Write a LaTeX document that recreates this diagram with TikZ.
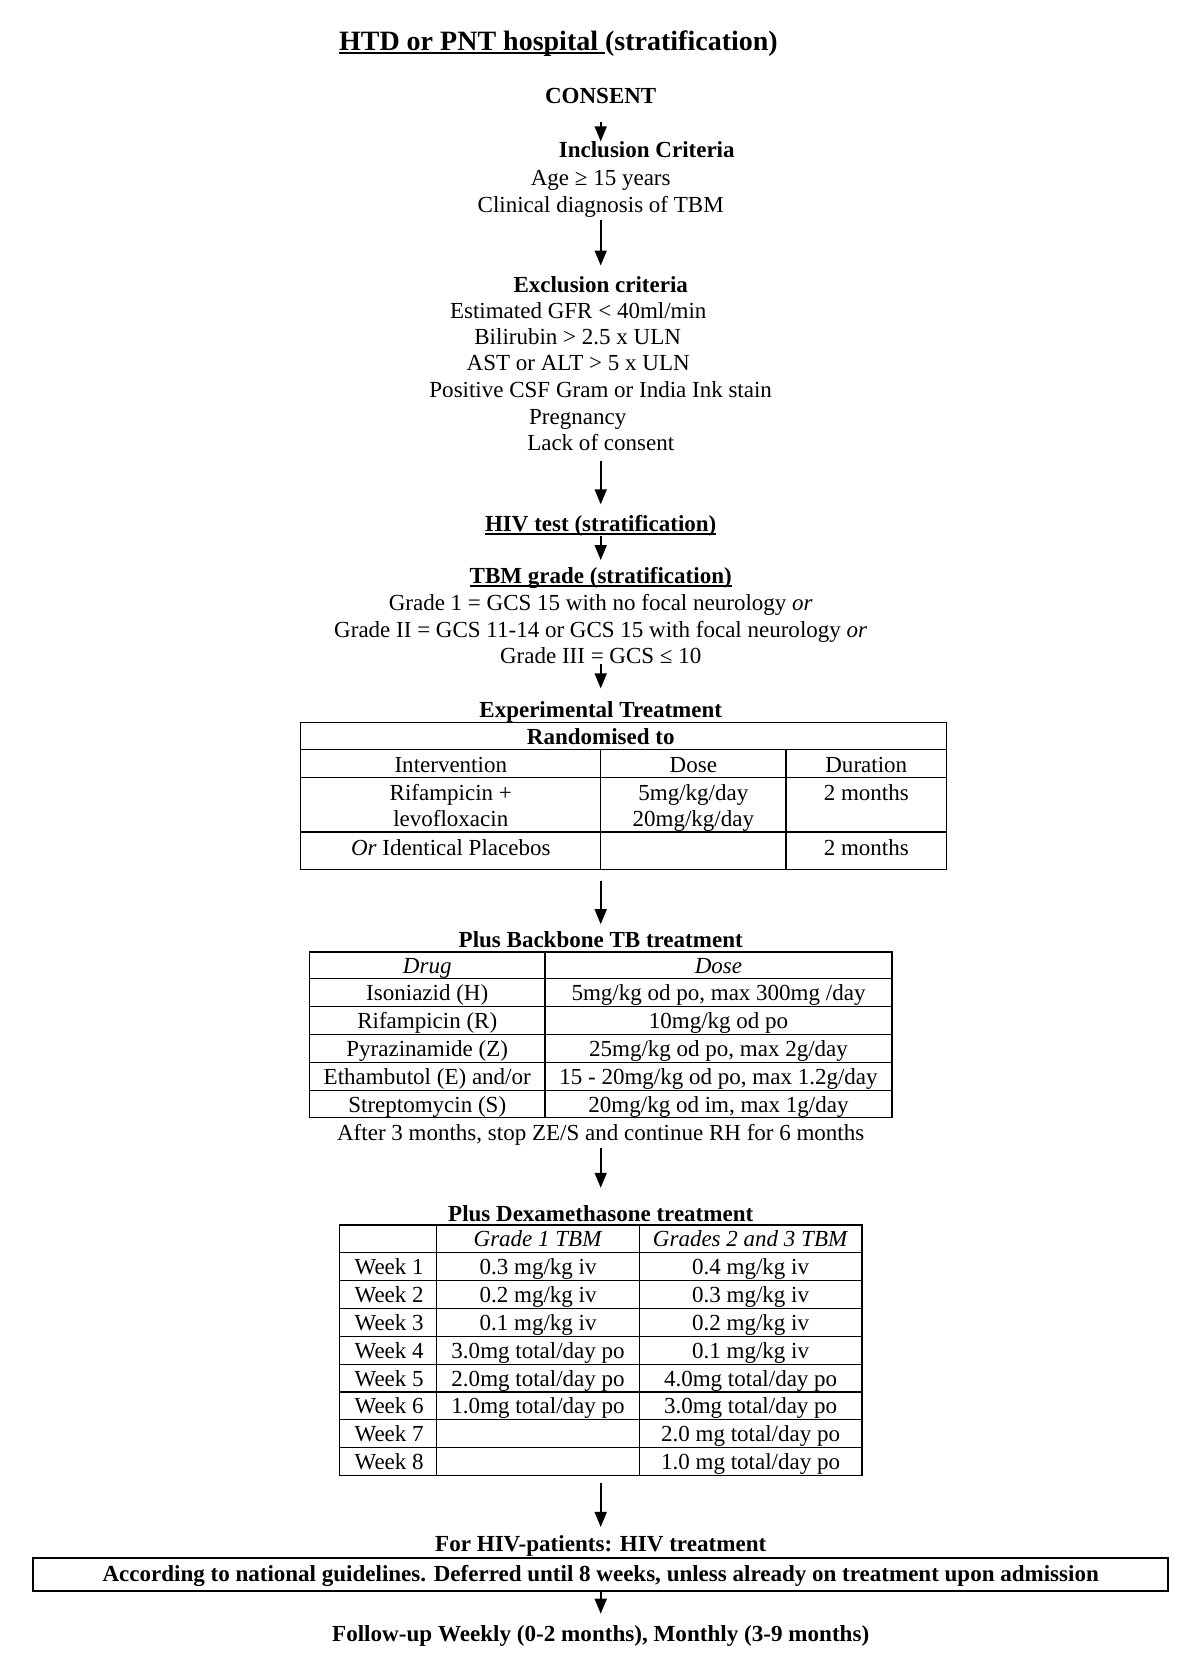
\documentclass[tikz,border=0pt]{standalone}
\usepackage{fontspec}
\setmainfont{Liberation Serif}
\usetikzlibrary{arrows.meta}
\newcommand\myul[1]{\leavevmode\setbox0\hbox{#1}\rlap{\rule[-3.5pt]{\wd0}{1.6pt}}\box0}
\begin{document}
\begin{tikzpicture}[x=1.0705pt,y=-1.0705pt,
  txt/.style={inner sep=0pt, anchor=base, font=\fontsize{23}{26}\selectfont},
  hd/.style={inner sep=0pt, anchor=base, font=\fontsize{23}{26}\selectfont\bfseries},
  wk/.style={inner sep=0pt, anchor=base west, font=\fontsize{23}{26}\selectfont},
  arr/.style={line width=1.6pt, -{Triangle[length=15pt,width=12pt]}},
  frame/.style={draw, line width=1.1pt, inner sep=0pt},
  grid/.style={line width=1.1pt}]
\fill[white] (0,0) rectangle (1121,1568);
\path[use as bounding box] (0,0) rectangle (1121,1568);

% ---------- top flow ----------
\node[hd] (title) at (521.5,47) {\fontsize{28}{32}\selectfont\myul{HTD or PNT hospital\ }(stratification)};
\node[hd] (consent) at (561,97) {CONSENT};
\node[hd] (incl) at (604,147) {Inclusion Criteria};
\node[txt] (incl1) at (561,173) {Age ≥ 15 years};
\node[txt] (incl2) at (561,198) {Clinical diagnosis of TBM};
\node[hd] (excl) at (561,273) {Exclusion criteria};
\node[txt] (ex1) at (540,297) {Estimated GFR < 40ml/min};
\node[txt] (ex2) at (539.5,322) {Bilirubin > 2.5 x ULN};
\node[txt] (ex3) at (540,346) {AST or ALT > 5 x ULN};
\node[txt] (ex4) at (561,371) {Positive CSF Gram or India Ink stain};
\node[txt] (ex5) at (539.5,396) {Pregnancy};
\node[txt] (ex6) at (561,421) {Lack of consent};
\node[hd] (hiv) at (561,496) {\myul{HIV test (stratification)}};
\node[hd] (tbm) at (561,545) {\myul{TBM grade (stratification)}};
\node[txt] (g1) at (561,570) {Grade 1 = GCS 15 with no focal neurology \textit{or}};
\node[txt] (g2) at (561,595) {Grade II = GCS 11-14 or GCS 15 with focal neurology \textit{or}};
\node[txt] (g3) at (561,620) {Grade III = GCS ≤ 10};
\node[hd] (expt) at (561,670) {Experimental Treatment};

% ---------- table 1 ----------
\node[frame, minimum width=645.5pt, minimum height=146.7pt] (tab1) at (582.5,743.5) {};
\draw[grid] (281,700) -- (884,700);
\draw[grid] (281,726) -- (884,726);
\draw[grid] (281,777) -- (884,777);
\draw[grid] (561,700) -- (561,812);
\draw[grid] (734,700) -- (734,812);
\node[hd] (rand) at (561,695.5) {Randomised to};
\node[txt] (t1a) at (421,721.5) {Intervention};
\node[txt] (t1b) at (647.5,721.5) {Dose};
\node[txt] (t1c) at (809,721.5) {Duration};
\node[txt] (t1d) at (421,747.5) {Rifampicin +};
\node[txt] (t1e) at (421,771.5) {levofloxacin};
\node[txt] (t1f) at (647.5,747.5) {5mg/kg/day};
\node[txt] (t1g) at (647.5,771.5) {20mg/kg/day};
\node[txt] (t1h) at (809,747.5) {2 months};
\node[txt] (t1i) at (421,798.5) {\textit{Or} Identical Placebos};
\node[txt] (t1j) at (809,798.5) {2 months};

% ---------- table 2 ----------
\node[hd] (backbone) at (561,885) {Plus Backbone TB treatment};
\node[frame, minimum width=582.4pt, minimum height=165.9pt] (tab2) at (561,966.5) {};
\foreach \yy in {914,940,966,992,1018} \draw[grid] (289,\yy) -- (833,\yy);
\draw[grid] (509,889) -- (509,1044);
\node[txt] (t2a) at (399,909) {\textit{Drug}};
\node[txt] (t2b) at (671,909) {\textit{Dose}};
\node[txt] (t2c) at (399,934.5) {Isoniazid (H)};
\node[txt] (t2d) at (671,934.5) {5mg/kg od po, max 300mg /day};
\node[txt] (t2e) at (399,960.5) {Rifampicin (R)};
\node[txt] (t2f) at (671,960.5) {10mg/kg od po};
\node[txt] (t2g) at (399,986.5) {Pyrazinamide (Z)};
\node[txt] (t2h) at (671,986.5) {25mg/kg od po, max 2g/day};
\node[txt] (t2i) at (399,1012.5) {Ethambutol (E) and/or};
\node[txt] (t2j) at (671,1012.5) {15 - 20mg/kg od po, max 1.2g/day};
\node[txt] (t2k) at (399,1038.5) {Streptomycin (S)};
\node[txt] (t2l) at (671,1038.5) {20mg/kg od im, max 1g/day};
\node[txt] (after) at (561,1065) {After 3 months, stop ZE/S and continue RH for 6 months};

% ---------- table 3 ----------
\node[hd] (dexa) at (561,1141) {Plus Dexamethasone treatment};
\node[frame, minimum width=522.4pt, minimum height=250.5pt] (tab3) at (561,1261) {};
\foreach \yy in {1170,1196,1222,1248,1274,1300,1326,1352} \draw[grid] (317,\yy) -- (805,\yy);
\draw[grid] (408,1144) -- (408,1378);
\draw[grid] (597,1144) -- (597,1378);
\node[txt] (h2) at (502.5,1164.5) {\textit{Grade 1 TBM}};
\node[txt] (h3) at (701,1164.5) {\textit{Grades 2 and 3 TBM}};
\node[wk] (w1) at (331,1190.5) {Week 1};
\node[wk] (w2) at (331,1216.5) {Week 2};
\node[wk] (w3) at (331,1242.5) {Week 3};
\node[wk] (w4) at (331,1268.5) {Week 4};
\node[wk] (w5) at (331,1294.5) {Week 5};
\node[wk] (w6) at (331,1320.5) {Week 6};
\node[wk] (w7) at (331,1346.5) {Week 7};
\node[wk] (w8) at (331,1372.5) {Week 8};
\node[txt] (a1) at (502.5,1190.5) {0.3 mg/kg iv};
\node[txt] (a2) at (502.5,1216.5) {0.2 mg/kg iv};
\node[txt] (a3) at (502.5,1242.5) {0.1 mg/kg iv};
\node[txt] (a4) at (502.5,1268.5) {3.0mg total/day po};
\node[txt] (a5) at (502.5,1294.5) {2.0mg total/day po};
\node[txt] (a6) at (502.5,1320.5) {1.0mg total/day po};
\node[txt] (b1) at (701,1190.5) {0.4 mg/kg iv};
\node[txt] (b2) at (701,1216.5) {0.3 mg/kg iv};
\node[txt] (b3) at (701,1242.5) {0.2 mg/kg iv};
\node[txt] (b4) at (701,1268.5) {0.1 mg/kg iv};
\node[txt] (b5) at (701,1294.5) {4.0mg total/day po};
\node[txt] (b6) at (701,1320.5) {3.0mg total/day po};
\node[txt] (b7) at (701,1346.5) {2.0 mg total/day po};
\node[txt] (b8) at (701,1372.5) {1.0 mg total/day po};

% ---------- bottom ----------
\node[hd] (forhiv) at (561,1449) {\resizebox{331pt}{\height}{For HIV-patients: HIV treatment}};
\node[draw, line width=2pt, inner sep=0pt, minimum width=1134.7pt, minimum height=33.2pt] (box) at (561,1470.5) {};
\node[hd] (boxtxt) at (561,1476.5) {\resizebox{996pt}{\height}{According to national guidelines. Deferred until 8 weeks, unless already on treatment upon admission}};
\node[hd] (follow) at (561,1533) {\resizebox{537pt}{\height}{Follow-up Weekly (0-2 months), Monthly (3-9 months)}};

% ---------- arrows ----------
\draw[arr] ([yshift=-18pt]consent.base) -- ([yshift=16pt]consent.base |- incl.base);
\draw[arr] ([yshift=-8pt]incl2.base) -- ([yshift=26.8pt]excl.base);
\draw[arr] ([yshift=-10pt]ex6.base) -- ([yshift=26.8pt]hiv.base);
\draw[arr] ([yshift=-5pt]hiv.base) -- ([yshift=23.5pt]tbm.base);
\draw[arr] ([yshift=0pt]g3.base) -- ([yshift=29pt]expt.base);
\draw[arr] ([yshift=-10.7pt]tab1.south -| expt.base) -- ([yshift=23.5pt]backbone.base);
\draw[arr] ([yshift=-8pt]after.base) -- ([yshift=34pt]dexa.base);
\draw[arr] ([yshift=-6.4pt]tab3.south) -- ([yshift=24.6pt]forhiv.base);
\draw[arr] (box.south) -- ([yshift=27.8pt]follow.base);
\end{tikzpicture}
\end{document}
